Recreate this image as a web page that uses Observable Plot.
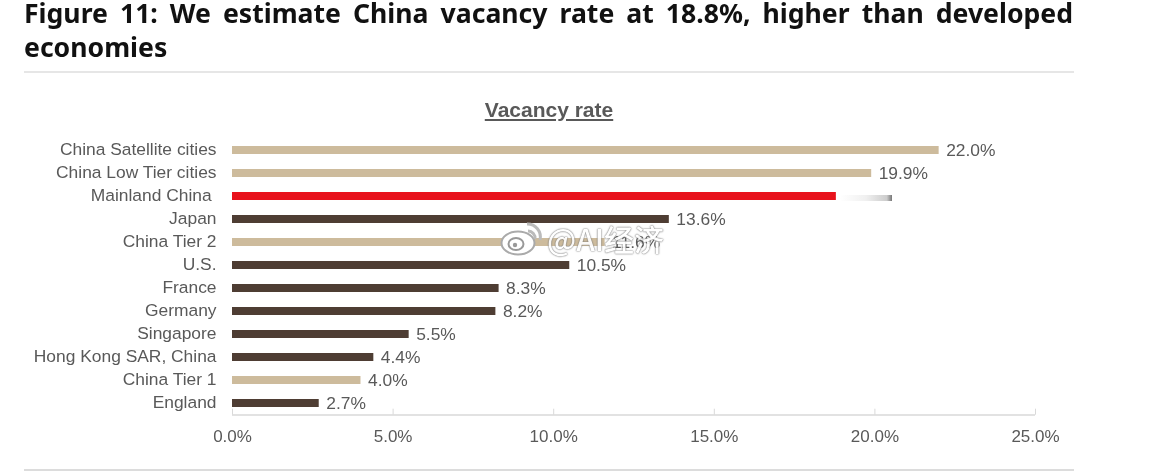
<!DOCTYPE html>
<html><head><meta charset="utf-8">
<script src="https://cdn.jsdelivr.net/npm/d3@7"></script>
<script src="https://cdn.jsdelivr.net/npm/@observablehq/plot@0.6"></script>
<style>
html,body{margin:0;padding:0;background:#fff;overflow:hidden}
#page{position:relative;width:1170px;height:472px;filter:blur(.45px)}
#title{position:absolute;left:24px;top:0;width:1049px;font:700 26.6px/26px "Noto Sans",sans-serif;color:#111}
#title span{display:block}
#title .l1{text-align:justify;text-align-last:justify}
#title .l2{margin-top:8px}
#rule{position:absolute;left:24px;top:71px;width:1050px;height:2px;background:#e6e6e6}
#rule2{position:absolute;left:24px;top:469px;width:1050px;height:2px;background:#dcdcdc}
#sub{position:absolute;left:349px;width:400px;top:98px;text-align:center;font:700 21px/24px "Liberation Sans",sans-serif;color:#595959;text-decoration:underline}
#plot{position:absolute;left:0;top:80px}
#smudge{position:absolute;left:840px;top:195px;width:52px;height:6px;background:linear-gradient(90deg,#fff,#f0f0f0 50%,#ccc 90%,#777)}
#wm{position:absolute;left:547px;top:219px;font:500 30px/38px "Noto Sans CJK SC","Liberation Sans",sans-serif;color:#fff;opacity:.92;text-shadow:0 0 2px #777,0 0 1px #555}
#logo{position:absolute;left:500px;top:219px}
</style></head>
<body>
<div id="page">
<div id="title"><span class="l1">Figure 11: We estimate China vacancy rate at 18.8%, higher than developed</span> <span class="l2">economies</span></div>
<div id="rule"></div>
<div id="sub">Vacancy rate</div>
<div id="plot"></div>
<div id="smudge"></div>
<svg id="logo" width="46" height="38" viewBox="0 0 46 38"><ellipse cx="18" cy="24" rx="16.5" ry="11.5" fill="#fff" stroke="#aaa" stroke-width="2"/><ellipse cx="16" cy="25" rx="7.5" ry="6" fill="#fff" stroke="#999" stroke-width="2"/><circle cx="15" cy="26" r="2.2" fill="#999"/><path d="M27 5a13 13 0 0 1 13 16M28 12a7 7 0 0 1 7 8" fill="none" stroke="#bbb" stroke-width="3"/></svg>
<div id="wm">@AI经济</div>
<div id="rule2"></div>
</div>
<script>
const categories = ["China Satellite cities","China Low Tier cities","Mainland China\u00a0","Japan","China Tier 2","U.S.","France","Germany","Singapore","Hong Kong SAR, China","China Tier 1","England"];
const values = [22.0,19.9,18.8,13.6,11.6,10.5,8.3,8.2,5.5,4.4,4.0,2.7];
const groups = ["tier","tier","main","intl","tier","intl","intl","intl","intl","intl","tier","intl"];
const groupNames = ["tier","main","intl"];
const groupColors = ["#cdbb9c","#e8121c","#4e3d33"];
const hiddenLabels = ["Mainland China\u00a0"];
const xTicks = [0,5,10,15,20,25];

const data = categories.map((c,i)=>({category:c,value:values[i],group:groups[i]}));
const fmt = v => v.toFixed(1)+"%";
const font = '"Liberation Sans",Arial,sans-serif';

const chart = Plot.plot({
  width:1170, height:385,
  marginLeft:232, marginRight:135, marginTop:57.5, marginBottom:50.3,
  style:{fontFamily:font,fontSize:"17px",color:"#595959",background:"transparent"},
  x:{domain:[0,25],ticks:xTicks,label:null},
  y:{domain:categories,label:null,paddingInner:0.65,paddingOuter:0.175},
  color:{domain:groupNames,range:groupColors},
  marks:[
    Plot.barX(data,{x:"value",y:"category",fill:"group"}),
    Plot.text(data.filter(d=>!hiddenLabels.includes(d.category)),{x:"value",y:"category",text:d=>fmt(d.value),textAnchor:"start",dx:7,dy:0,fill:"#595959",fontSize:17.4}),
    Plot.ruleY([categories[categories.length-1]],{x1:0,x2:25,dy:11.5,stroke:"#d9d9d9",strokeWidth:1.5}),
    Plot.ruleX([0],{y1:categories[0],y2:categories[categories.length-1],stroke:"#e4e4e4",strokeWidth:1.5,insetTop:-12,insetBottom:-12}),
    Plot.axisX({ticks:xTicks,tickFormat:fmt,anchor:"bottom",tickSize:-6,tickPadding:21,stroke:"#d9d9d9",fill:"#595959",fontSize:17,label:null}),
    Plot.axisY({domain:categories,tickSize:0,tickPadding:16,fill:"#595959",fontSize:17.4,dy:-1,label:null,anchor:"left"})
  ]
});
document.getElementById("plot").append(chart);
</script>
</body></html>
